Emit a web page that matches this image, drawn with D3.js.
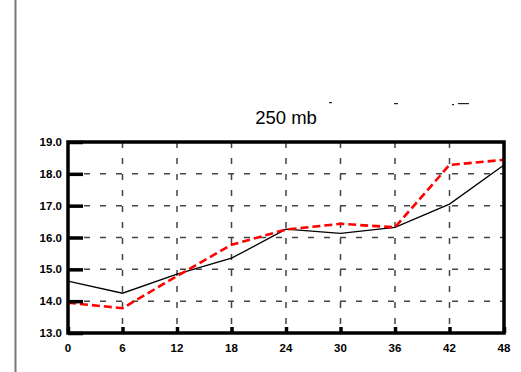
<!DOCTYPE html>
<html>
<head>
<meta charset="utf-8">
<script src="https://cdn.jsdelivr.net/npm/d3@7"></script>
<style>
  html, body { margin: 0; padding: 0; background: #fff; }
  svg { display: block; font-family: "Liberation Sans", Arial, Helvetica, sans-serif; }
</style>
</head>
<body>
<script>
// forecast hour on the x axis
const hours = [0, 6, 12, 18, 24, 30, 36, 42, 48];
// black solid series
const solidSeries = [14.63, 14.25, 14.85, 15.35, 16.26, 16.13, 16.32, 17.05, 18.28];
// red dashed series
const dashedSeries = [13.95, 13.78, 14.79, 15.77, 16.25, 16.43, 16.32, 18.28, 18.44];
const yTicks = [13, 14, 15, 16, 17, 18, 19];
const title = "250 mb";

const W = 521, H = 372;
const margin = { top: 142, right: 17, bottom: 39, left: 68 };

const svg = d3.select("body").append("svg")
  .attr("width", W)
  .attr("height", H);

// gray page edge on the left
svg.append("line")
  .attr("x1", 15.5).attr("x2", 15.5)
  .attr("y1", 0).attr("y2", H)
  .attr("stroke", "#777")
  .attr("stroke-width", 2);

const x = d3.scaleLinear().domain([0, 48]).range([margin.left, W - margin.right]);
const y = d3.scaleLinear().domain([13, 19]).range([H - margin.bottom, margin.top]);

// grid
const grid = svg.append("g")
  .attr("stroke", "#444")
  .attr("stroke-width", 1.5)
  .attr("stroke-dasharray", "6,10");
grid.selectAll("line.h")
  .data(yTicks.slice(1, -1))
  .join("line")
  .attr("class", "h")
  .attr("x1", x(0)).attr("x2", x(48))
  .attr("y1", (d) => y(d)).attr("y2", (d) => y(d));
grid.selectAll("line.v")
  .data(hours.slice(1, -1))
  .join("line")
  .attr("class", "v")
  .attr("x1", (d) => x(d)).attr("x2", (d) => x(d))
  .attr("y1", y(19)).attr("y2", y(13));

// lines
const line = (vals) => d3.line()
  .x((d, i) => x(hours[i]))
  .y((d) => y(d))(vals);

svg.append("path")
  .attr("d", line(solidSeries))
  .attr("fill", "none")
  .attr("stroke", "#000")
  .attr("stroke-width", 1.3);

svg.append("path")
  .attr("d", line(dashedSeries))
  .attr("fill", "none")
  .attr("stroke", "#ff0000")
  .attr("stroke-width", 2.6)
  .attr("stroke-dasharray", "8,4");

// axes, ticks point inward
const yAxis = svg.append("g")
  .attr("transform", `translate(${x(0)},0)`)
  .call(d3.axisRight(y).tickValues(yTicks).tickSize(15).tickFormat(""));
yAxis.select(".domain").remove();
yAxis.selectAll(".tick line").attr("stroke-width", 3.5);

const xAxis = svg.append("g")
  .attr("transform", `translate(0,${y(13)})`)
  .call(d3.axisTop(x).tickValues(hours).tickSize(6).tickFormat(""));
xAxis.select(".domain").remove();
xAxis.selectAll(".tick line").attr("stroke-width", 3.5);

// frame
svg.append("rect")
  .attr("x", x(0)).attr("y", y(19))
  .attr("width", x(48) - x(0))
  .attr("height", y(13) - y(19))
  .attr("fill", "none")
  .attr("stroke", "#000")
  .attr("stroke-width", 3.5);

// tick labels
svg.append("g")
  .selectAll("text")
  .data(yTicks)
  .join("text")
  .attr("x", x(0) - 6)
  .attr("y", (d) => y(d) + 4)
  .attr("text-anchor", "end")
  .attr("font-size", 11.5)
  .attr("font-weight", "bold")
  .text((d) => d3.format(".1f")(d));

svg.append("g")
  .selectAll("text")
  .data(hours)
  .join("text")
  .attr("x", (d) => x(d))
  .attr("y", y(13) + 19)
  .attr("text-anchor", "middle")
  .attr("font-size", 11.5)
  .attr("font-weight", "bold")
  .text((d) => d);

// title
svg.append("text")
  .attr("x", (x(0) + x(48)) / 2)
  .attr("y", 124)
  .attr("text-anchor", "middle")
  .attr("font-size", 18.5)
  .text(title);

// clipped remnants of text above the title
svg.append("g")
  .attr("fill", "#222")
  .selectAll("rect")
  .data([[329, 102, 3], [394, 103, 4], [452, 104, 2], [458, 103, 11]])
  .join("rect")
  .attr("x", (d) => d[0])
  .attr("y", (d) => d[1])
  .attr("width", (d) => d[2])
  .attr("height", 1.2);
</script>
</body>
</html>
